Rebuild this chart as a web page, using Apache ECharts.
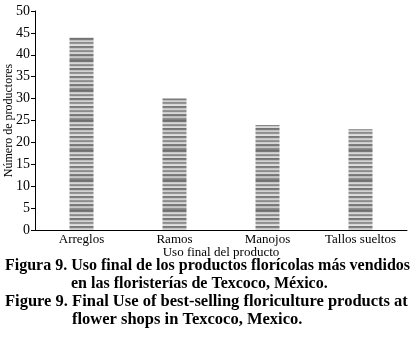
<!DOCTYPE html>
<html><head><meta charset="utf-8">
<script src="https://cdn.jsdelivr.net/npm/echarts@6/dist/echarts.min.js"></script>
<style>html,body{margin:0;padding:0;background:#fff}#c{width:413px;height:341px}</style>
</head><body><div id="c"></div>
<script>
var categories = ['Arreglos', 'Ramos', 'Manojos', 'Tallos sueltos'];
var values = [44, 30, 24, 23];
var yTicks = [0, 5, 10, 15, 20, 25, 30, 35, 40, 45, 50];
var captionLines = [
  'Figura 9. Uso final de los productos florícolas más vendidos',
  'en las floristerías de Texcoco, México.',
  'Figure 9. Final Use of best-selling floriculture products at',
  'flower shops in Texcoco, Mexico.'
];

// striped pattern for the bars
var pc = document.createElement('canvas');
pc.width = 24; pc.height = 30;
var pctx = pc.getContext('2d');
var shades = [110,120,200,215,150,135,205,220,115,125,190,210,140,150,215,225,120,130,195,210,150,140,205,215,125,118,188,200,142,130];
for (var i = 0; i < pc.height; i++) {
  var s = shades[i];
  pctx.fillStyle = 'rgb(' + s + ',' + s + ',' + s + ')';
  pctx.fillRect(0, i, 24, 1);
}

var chart = echarts.init(document.getElementById('c'));
var serif = '"Liberation Serif", "Times New Roman", serif';
chart.setOption({
  animation: false,
  grid: {left: 35, right: 6, top: 11, bottom: 111, containLabel: false, outerBoundsMode: 'none'},
  xAxis: {
    type: 'category', data: categories,
    name: 'Uso final del producto', nameLocation: 'middle', nameGap: 16, nameMoveOverlap: false,
    nameTextStyle: {color: '#000', fontFamily: serif, fontSize: 13, verticalAlign: 'top'},
    axisLine: {lineStyle: {color: '#000', width: 1}},
    axisTick: {show: false},
    axisLabel: {color: '#000', fontFamily: serif, fontSize: 13, margin: 3}
  },
  yAxis: {
    type: 'value', min: 0, max: 50, interval: 5,
    name: 'Número de productores', nameLocation: 'middle', nameGap: 20, nameMoveOverlap: false,
    nameTextStyle: {color: '#000', fontFamily: serif, fontSize: 12},
    axisLine: {show: true, lineStyle: {color: '#000', width: 1}},
    axisTick: {show: true, length: 4, lineStyle: {color: '#000'}},
    splitLine: {show: false},
    axisLabel: {color: '#000', fontFamily: serif, fontSize: 14, margin: 5,
      formatter: function (v) { return yTicks.indexOf(v) >= 0 ? String(v) : ''; }}
  },
  series: [{
    type: 'bar', data: values, barWidth: 24,
    itemStyle: {color: {image: pc, repeat: 'repeat'}}
  }],
  graphic: [
    {type: 'text', left: 5, top: 258, style: {text: captionLines[0], font: 'bold 16px ' + serif, fill: '#000'}},
    {type: 'text', left: 71, top: 276, style: {text: captionLines[1], font: 'bold 16px ' + serif, fill: '#000'}},
    {type: 'text', left: 5, top: 293, style: {text: captionLines[2], font: 'bold 16.5px ' + serif, fill: '#000'}},
    {type: 'text', left: 72, top: 311, style: {text: captionLines[3], font: 'bold 16.5px ' + serif, fill: '#000'}}
  ]
});
</script></body></html>
